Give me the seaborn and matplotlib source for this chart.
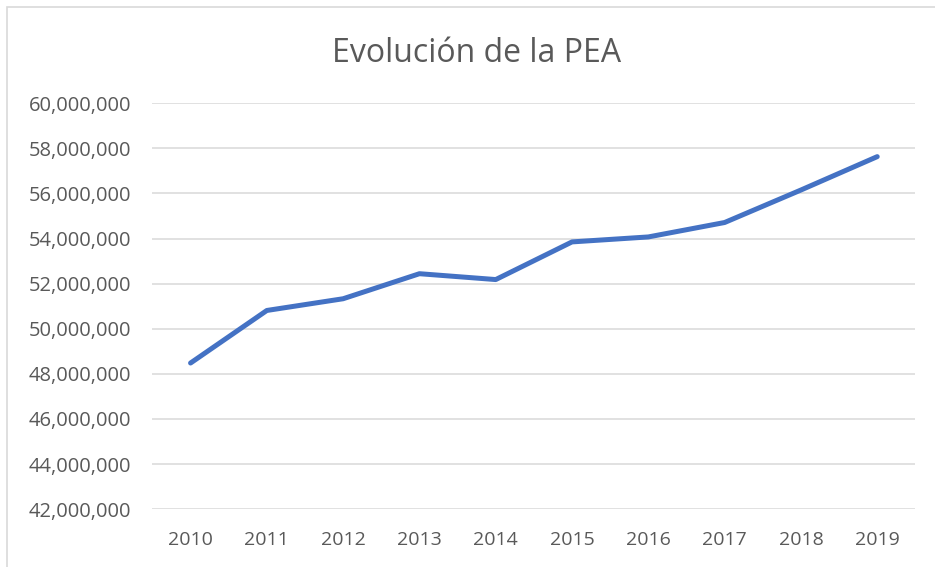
import numpy as np
import pandas as pd
import matplotlib
matplotlib.use('Agg')
import matplotlib.pyplot as plt
import matplotlib.ticker as mticker
from matplotlib.patches import Rectangle
import seaborn as sns

# Datos
years = [2010, 2011, 2012, 2013, 2014, 2015, 2016, 2017, 2018, 2019]
pea = [48480000, 50810000, 51330000, 52440000, 52180000,
       53850000, 54070000, 54710000, 56150000, 57630000]
y_ticks = list(range(42000000, 60000001, 2000000))

df = pd.DataFrame({'year': years, 'pea': pea})

sns.set_theme(style='white')
plt.rcParams['font.family'] = ['Open Sans', 'DejaVu Sans']
text_color = '#595959'

fig = plt.figure(figsize=(9.35, 5.67), dpi=100)
ax = fig.add_axes([0.163, 0.102, 0.816, 0.716])

sns.lineplot(data=df, x='year', y='pea', ax=ax, color='#4472C4',
             linewidth=3.6, solid_capstyle='round', solid_joinstyle='round')

ax.set_xlim(2009.5, 2019.5)
ax.set_ylim(y_ticks[0], y_ticks[-1])
ax.set_xticks(years)
ax.set_yticks(y_ticks)
ax.yaxis.set_major_formatter(mticker.FuncFormatter(lambda v, p: f'{int(v):,}'))
ax.grid(axis='y', color='#D9D9D9', linewidth=1.1)
ax.grid(axis='x', visible=False)
ax.set_axisbelow(True)
for s in ax.spines.values():
    s.set_visible(False)
ax.tick_params(axis='both', length=0, labelsize=14, colors=text_color)
ax.tick_params(axis='y', labelsize=14.5, pad=15)
ax.tick_params(axis='x', pad=16)
ax.set_xlabel('')
ax.set_ylabel('')

fig.text(0.51, 0.906, 'Evolución de la PEA', ha='center', va='center',
         fontsize=23, color=text_color)

# marco del grafico
fig.patches.append(Rectangle((7 / 935, -0.05), 1.0, 1.05 - 7 / 567,
                             transform=fig.transFigure, fill=False,
                             edgecolor='#D9D9D9', linewidth=1.2))

fig.savefig('out.png', dpi=100, facecolor='white')
